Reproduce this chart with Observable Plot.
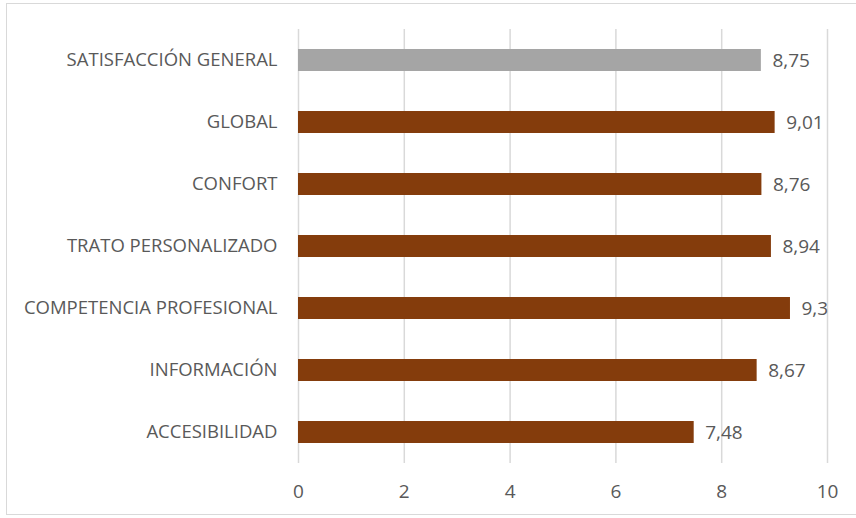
<!DOCTYPE html>
<html>
<head>
<meta charset="utf-8">
<script src="https://cdn.jsdelivr.net/npm/d3@7"></script>
<script src="https://cdn.jsdelivr.net/npm/@observablehq/plot@0.6"></script>
<style>
  html, body { margin: 0; padding: 0; background: #fff; }
  #wrap { position: relative; width: 856px; height: 518px; overflow: hidden; }
  #border { position: absolute; left: 6px; top: 3px; width: 860px; height: 512px; border: 1.5px solid #d9d9d9; box-sizing: border-box; pointer-events: none; }
  svg { font-family: "Open Sans", sans-serif; }
</style>
</head>
<body>
<div id="wrap"><div id="border"></div></div>
<script>
const categories = ["SATISFACCIÓN GENERAL", "GLOBAL", "CONFORT", "TRATO PERSONALIZADO", "COMPETENCIA PROFESIONAL", "INFORMACIÓN", "ACCESIBILIDAD"];
const values = [8.75, 9.01, 8.76, 8.94, 9.3, 8.67, 7.48];
const xTicks = [0, 2, 4, 6, 8, 10];
const highlight = "SATISFACCIÓN GENERAL";

const data = categories.map((c, i) => ({category: c, value: values[i]}));
const fmt = v => String(v).replace(".", ",");

const chart = Plot.plot({
  width: 856,
  height: 518,
  marginTop: 29,
  marginBottom: 55,
  marginLeft: 298,
  marginRight: 29,
  style: {fontSize: "18.5px", color: "#595959", fontFamily: "'Open Sans', sans-serif", background: "transparent"},
  x: {domain: [0, 10], ticks: xTicks, tickSize: 0, tickPadding: 21, label: null, tickFormat: d => String(d)},
  y: {domain: categories, paddingInner: 0.645, paddingOuter: 0.32, tickSize: 0, tickPadding: 21, label: null},
  marks: [
    Plot.ruleX(xTicks, {stroke: "#d9d9d9", strokeWidth: 1.5}),
    Plot.barX(data, {x: "value", y: "category", fill: d => d.category === highlight ? "#A5A5A5" : "#843C0C"}),
    Plot.text(data, {x: "value", y: "category", text: d => fmt(d.value), textAnchor: "start", dx: 11, fill: "#595959", fontSize: 19})
  ]
});
chart.querySelectorAll("[aria-label='x-axis tick label'] text").forEach(t => t.style.fontSize = "19px");
document.getElementById("wrap").insertBefore(chart, document.getElementById("border"));
</script>
</body>
</html>
